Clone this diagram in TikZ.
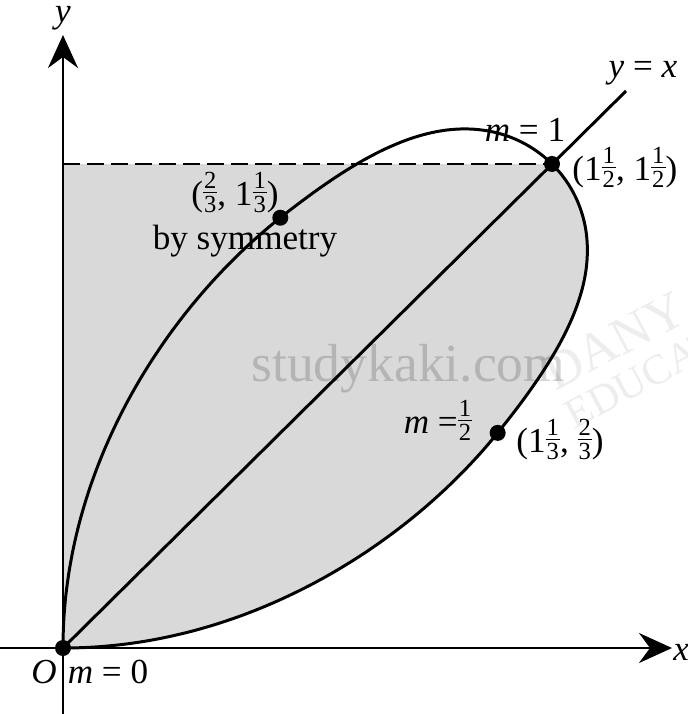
\documentclass[tikz,border=0pt]{standalone}
\usepackage{amsmath}
\usepackage{fontspec}
\setmainfont{Liberation Serif}
\usetikzlibrary{arrows.meta}
\newcommand\fr[2]{\raisebox{-4.5pt}{\fontsize{14}{14}\selectfont\vbox{\halign{\hfil\kern0.6pt##\kern0.6pt\hfil\cr #1\cr\noalign{\kern2.1pt\hrule height0.6pt\kern2.1pt}#2\cr}}}}
\begin{document}
\begin{tikzpicture}[x=0.02cm,y=-0.02cm,
  declare function={
    fa(\t)=3*\t/(1+\t^3);
    fb(\t)=3*\t*\t/(1+\t^3);
    kk(\t)=1+0.18*(max(0,fa(\t)+fb(\t)-2))^2;
    lx(\t)=((fa(\t)+fb(\t))+kk(\t)*(fa(\t)-fb(\t)))/2;
    ly(\t)=((fa(\t)+fb(\t))-kk(\t)*(fa(\t)-fb(\t)))/2;
  },
  lbl/.style={font=\fontsize{20}{24}\selectfont, inner sep=0pt},
  curveline/.style={line width=1.7pt},
  axisline/.style={line width=1.4pt, -{Stealth[length=0.66cm,width=0.6cm,inset=0.22cm]}},
  dotnode/.style={circle, fill=black, inner sep=0pt, minimum size=0.32cm},
  wmark/.style={font=\fontsize{30.5}{32}\selectfont, text=black, text opacity=0.17, inner sep=0pt},
  wmarkfaint/.style={font=\fontsize{30}{32}\selectfont, text=black, text opacity=0.07, inner sep=0pt, rotate=28}
]
\useasboundingbox (0,0) rectangle (688,714);
\def\ox{63}\def\oy{648}\def\ux{326}\def\uy{322.7}
\coordinate (O) at (\ox,\oy);
\coordinate (P) at ({\ox+1.5*\ux},{\oy-1.5*\uy});
\coordinate (Q) at ({\ox+4/3*\ux},{\oy-2/3*\uy});
\coordinate (R) at ({\ox+2/3*\ux},{\oy-4/3*\uy});
\coordinate (Ytop) at (\ox,{\oy-1.5*\uy});
\coordinate (Yend) at (\ox,35);
\coordinate (Ystart) at (\ox,714);
\coordinate (Xstart) at (0,\oy);
\coordinate (Xend) at (672,\oy);
\coordinate (Lend) at (626,91);
% shaded region
\fill[fill={rgb,255:red,217;green,217;blue,217}] (O) -- (Ytop) -- (P)
  -- plot[domain=1:0, samples=120, smooth, variable=\t]
     ({\ox+\ux*lx(\t)},{\oy-\uy*ly(\t)}) -- cycle;
% watermarks
\begin{scope}
\clip (0,0) rectangle (688,714);
\node[wmark, anchor=base west] (wm1) at (251,381) {studykaki.com};
\node[wmarkfaint, anchor=base west] (wm2) at (555,392) {DANY};
\node[wmarkfaint, anchor=base west, font=\fontsize{24}{28}\selectfont] (wm3) at (574,430) {EDUCATION};
\end{scope}
% dashed line
\draw[line width=1.1pt, dash pattern=on 0.34cm off 0.14cm] (Ytop) -- (P);
% axes
\draw[axisline] (Ystart) -- (Yend);
\draw[axisline] (Xstart) -- (Xend);
% y = x line
\draw[curveline] (O) -- (Lend);
% folium
\draw[curveline]
  plot[domain=0:1, samples=120, smooth, variable=\t]
     ({\ox+\ux*lx(\t)},{\oy-\uy*ly(\t)})
  -- plot[domain=1:0, samples=120, smooth, variable=\t]
     ({\ox+\ux*ly(\t)},{\oy-\uy*lx(\t)});
% dots
\node[dotnode] (dO) at (O) {};
\node[dotnode] (dP) at (P) {};
\node[dotnode] (dQ) at (Q) {};
\node[dotnode] (dR) at (R) {};
% labels
\node[lbl] (ly) at (63,18) {\textit{y}};
\node[lbl, anchor=west] (lx) at (673,652) {\textit{x}};
\node[lbl] (lyx) at (643,73) {\textit{y} = \textit{x}};
\node[lbl] (lm1) at (525,130) {\textit{m} = 1};
\node[lbl, anchor=base west] (lP) at (572,180) {(1\fr{1}{2}, 1\fr{1}{2})};
\node[lbl, anchor=base] (lR) at (235,205) {(\fr{2}{3}, 1\fr{1}{3})};
\node[lbl] (lsym) at (245,241) {by symmetry};
\node[lbl, anchor=base] (lmh) at (438,433) {\textit{m} =\fr{1}{2}};
\node[lbl, anchor=base] (lQ) at (560,452) {(1\fr{1}{3}, \fr{2}{3})};
\node[lbl] (lO) at (44,672) {\textit{O}};
\node[lbl] (lm0) at (108,672) {\textit{m} = 0};
\end{tikzpicture}
\end{document}
